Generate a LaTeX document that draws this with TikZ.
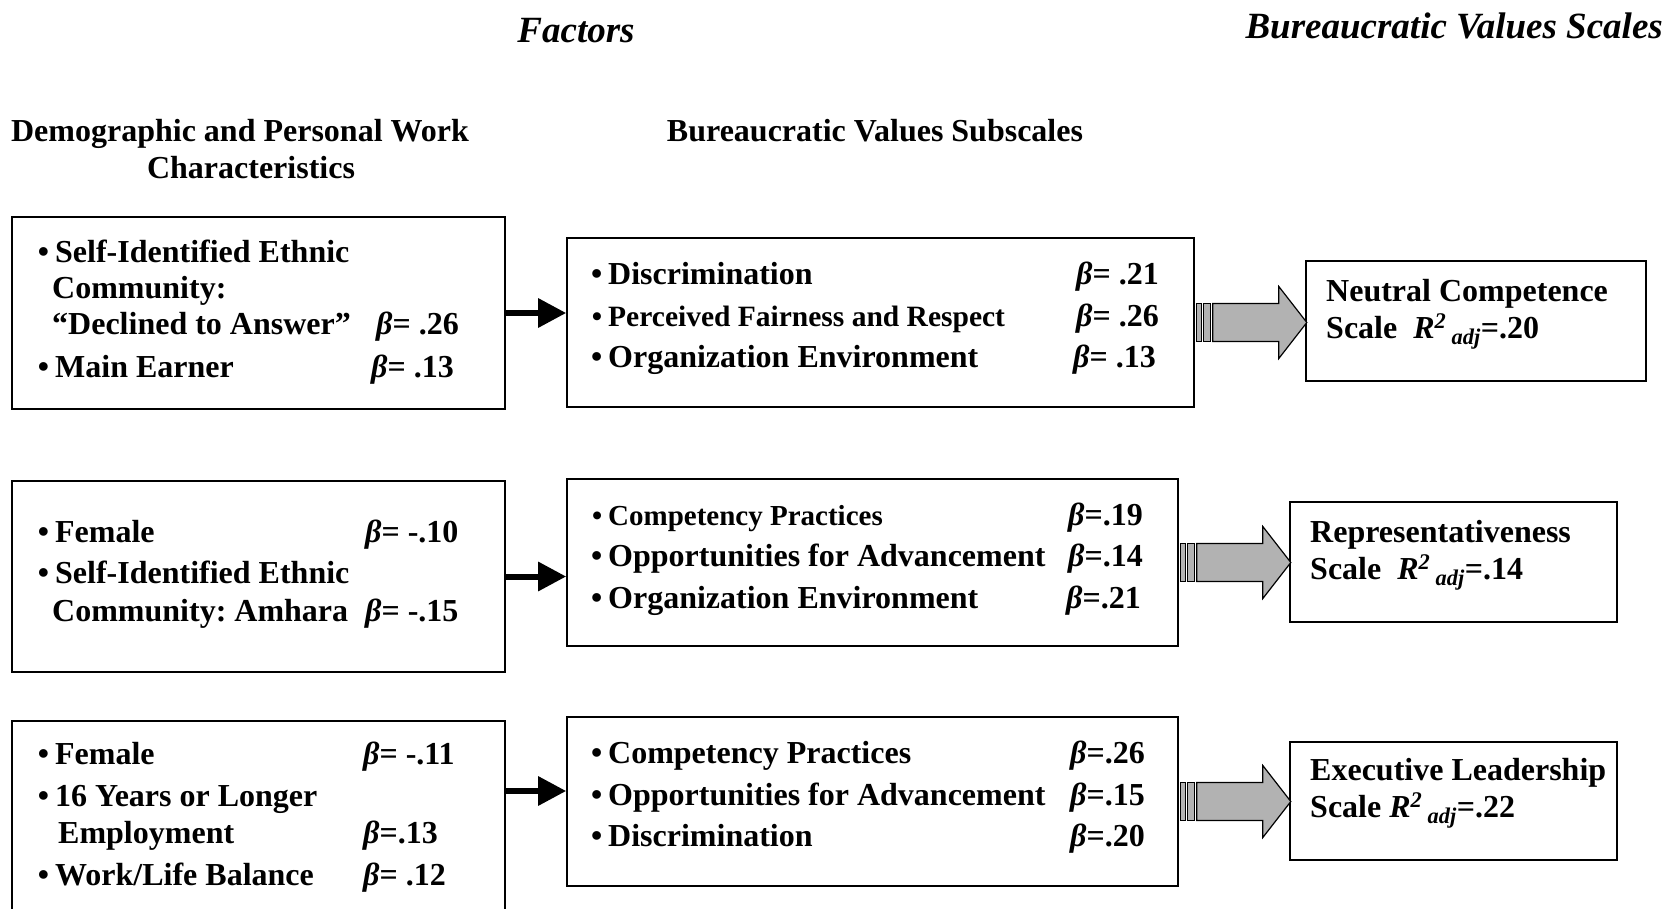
\documentclass[tikz,border=0pt]{standalone}
\usepackage{fontspec}
\setmainfont{Liberation Serif}
\usepackage{tikz}
\usetikzlibrary{arrows.meta}

\frenchspacing
\newcommand{\betaval}[1]{\textit{β}=#1}
\newcommand{\radj}[1]{\textit{R}\textsuperscript{\itshape 2}\,\textsubscript{\itshape adj}=#1}
\newcommand{\bul}{\llap{\textbullet\hspace{6pt}}}
% grey block arrow, drawn from the east side of a subscale box
\newcommand{\grayarrow}[1]{%
\begin{scope}[shift={(#1.east)}, fill=gray!60, draw=black, line width=1.2pt]
    \filldraw (2,-19) rectangle (7,19);
    \filldraw (9,-19) rectangle (16,19);
    \filldraw (18,-19) -- (84,-19) -- (84,-36) -- (112,0)
               -- (84,36) -- (84,19) -- (18,19) -- cycle;
\end{scope}}

\begin{document}
\begin{tikzpicture}[x=1pt, y=-1pt,
    box/.style={draw, line width=1.6pt, inner sep=0pt},
    txt/.style={anchor=base west, inner sep=0pt, font=\fontsize{32}{38}\selectfont\bfseries},
    head/.style={anchor=base, inner sep=0pt, font=\fontsize{32}{38}\selectfont\bfseries},
    title/.style={inner sep=0pt, font=\fontsize{37}{44}\selectfont\bfseries\itshape},
    blackarrow/.style={line width=6pt, -{Triangle[length=28pt, width=28pt]}}]
\useasboundingbox (0,0) rectangle (1669,909);

% headings
\node [title, anchor=base] (fac) at (576,43) {Factors};
\node [title, anchor=base east] (scl) at (1663,39) {Bureaucratic Values Scales};
\node [head] (dem) at (240,142) {Demographic and Personal Work};
\node [head] (dem2) at (251,179) {Characteristics};
\node [head] (sub) at (875,142) {Bureaucratic Values Subscales};

% boxes
\node [box, minimum width=493, minimum height=192] (l1) at (258.5,313) {};
\node [box, minimum width=493, minimum height=191] (l2) at (258.5,576.5) {};
\node [box, minimum width=493, minimum height=209] (l3) at (258.5,825.5) {};
\node [box, minimum width=627, minimum height=169] (m1) at (880.5,322.5) {};
\node [box, minimum width=611, minimum height=167] (m2) at (872.5,562.5) {};
\node [box, minimum width=611, minimum height=169] (m3) at (872.5,801.5) {};
\node [box, minimum width=340, minimum height=120] (r1) at (1476,321) {};
\node [box, minimum width=327, minimum height=120] (r2) at (1453.5,562) {};
\node [box, minimum width=327, minimum height=118] (r3) at (1453.5,801) {};

% demographic factors
\node [txt] (l1a) at (55,262) {\bul Self-Identified Ethnic};
\node [txt] (l1b) at (52,298) {Community:};
\node [txt] (l1c) at (52,334) {“Declined to Answer”};
\node [txt] (l1cb) at (376,334) {\betaval{ .26}};
\node [txt] (l1d) at (55,377) {\bul Main Earner};
\node [txt] (l1db) at (371,377) {\betaval{ .13}};

\node [txt] (l2a) at (55,542) {\bul Female};
\node [txt] (l2ab) at (365,542) {\betaval{ -.10}};
\node [txt] (l2b) at (55,583) {\bul Self-Identified Ethnic};
\node [txt] (l2c) at (52,621) {Community: Amhara};
\node [txt] (l2cb) at (365,621) {\betaval{ -.15}};

\node [txt] (l3a) at (55,764) {\bul Female};
\node [txt] (l3ab) at (363,764) {\betaval{ -.11}};
\node [txt] (l3b) at (55,806) {\bul 16 Years or Longer};
\node [txt] (l3c) at (58,843) {Employment};
\node [txt] (l3cb) at (363,843) {\betaval{.13}};
\node [txt] (l3d) at (55,885) {\bul Work/Life Balance};
\node [txt] (l3db) at (363,885) {\betaval{ .12}};

% subscales
\node [txt] (m1a) at (608,284) {\bul Discrimination};
\node [txt] (m1ab) at (1076,284) {\betaval{ .21}};
\node [txt, font=\fontsize{29.5}{35}\selectfont\bfseries] (m1b) at (608,326) {\bul Perceived Fairness and Respect};
\node [txt] (m1bb) at (1076,326) {\betaval{ .26}};
\node [txt] (m1c) at (608,367) {\bul Organization Environment};
\node [txt] (m1cb) at (1073,367) {\betaval{ .13}};

\node [txt, font=\fontsize{29}{35}\selectfont\bfseries] (m2a) at (608,525) {\bul Competency Practices};
\node [txt] (m2ab) at (1068,525) {\betaval{.19}};
\node [txt] (m2b) at (608,566) {\bul Opportunities for Advancement};
\node [txt] (m2bb) at (1068,566) {\betaval{.14}};
\node [txt] (m2c) at (608,608) {\bul Organization Environment};
\node [txt] (m2cb) at (1066,608) {\betaval{.21}};

\node [txt] (m3a) at (608,763) {\bul Competency Practices};
\node [txt] (m3ab) at (1070,763) {\betaval{.26}};
\node [txt] (m3b) at (608,805) {\bul Opportunities for Advancement};
\node [txt] (m3bb) at (1070,805) {\betaval{.15}};
\node [txt] (m3c) at (608,846) {\bul Discrimination};
\node [txt] (m3cb) at (1070,846) {\betaval{.20}};

% scales
\node [txt] (r1a) at (1326,301) {Neutral Competence};
\node [txt] (r1b) at (1326,338) {Scale\ \ \radj{.20}};
\node [txt] (r2a) at (1310,542) {Representativeness};
\node [txt] (r2b) at (1310,579) {Scale\ \ \radj{.14}};
\node [txt] (r3a) at (1310,780) {Executive Leadership};
\node [txt] (r3b) at (1310,817) {Scale \radj{.22}};

% arrows
\coordinate (row3) at (0,791);
\draw [blackarrow] (l1.east) -- (m1.west |- l1.east);
\draw [blackarrow] (l2.east) -- (m2.west |- l2.east);
\draw [blackarrow] (l3.east |- row3) -- (m3.west |- row3);
\grayarrow{m1}
\grayarrow{m2}
\grayarrow{m3}
\end{tikzpicture}
\end{document}
